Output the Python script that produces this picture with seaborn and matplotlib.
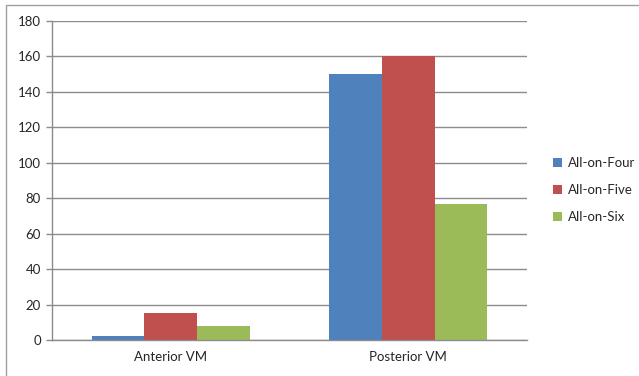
import matplotlib
matplotlib.use("Agg")
import matplotlib.pyplot as plt
import seaborn as sns
import pandas as pd
from matplotlib.patches import Rectangle

categories = ["Anterior VM", "Posterior VM"]
series = ["All-on-Four", "All-on-Five", "All-on-Six"]
all_on_four = [2, 150]
all_on_five = [15, 160]
all_on_six = [8, 77]
yticks = [0, 20, 40, 60, 80, 100, 120, 140, 160, 180]
colors = ["#4F81BD", "#C0504D", "#9BBB59"]

rows = []
for name, vals in zip(series, [all_on_four, all_on_five, all_on_six]):
    for cat, v in zip(categories, vals):
        rows.append({"category": cat, "series": name, "value": v})
df = pd.DataFrame(rows)

sns.set_style("white")
plt.rcParams["font.family"] = ["Lato", "DejaVu Sans"]

W, H = 639, 376
fig = plt.figure(figsize=(W / 100, H / 100), dpi=100)
# chart frame
fig.patches.append(Rectangle((6 / W, -0.1), 2, (H - 5) / H + 0.1, transform=fig.transFigure,
                             fill=False, edgecolor="#A0A0A0", linewidth=1.0))

ax = fig.add_axes([52 / W, 1 - 340 / H, (527 - 52) / W, (340 - 21) / H])
sns.barplot(data=df, x="category", y="value", hue="series", palette=colors,
            width=0.667, saturation=1, ax=ax, legend=True, errorbar=None,
            linewidth=0, edgecolor="none")

ax.set_ylim(0, 180)
ax.set_xlim(-0.5, 1.5)
ax.set_yticks(yticks)
ax.set_yticklabels([str(t) for t in yticks], fontsize=9.5, color="#262626")
ax.yaxis.grid(True, color="#8C8C8C", linewidth=1.0)
ax.set_axisbelow(True)
ax.set_xlabel("")
ax.set_ylabel("")
ax.set_xticks([0, 1])
ax.set_xticklabels(categories, fontsize=9.5, color="#262626")
ax.tick_params(axis="x", length=0, pad=8)
ax.set_xticks([-0.5, 0.5, 1.5], minor=True)
ax.tick_params(axis="x", which="minor", length=4, color="#8C8C8C", width=1)
ax.tick_params(axis="y", length=4, color="#8C8C8C", width=1, pad=4, left=True)
for s in ["top", "right"]:
    ax.spines[s].set_visible(False)
for s in ["left", "bottom"]:
    ax.spines[s].set_color("#8C8C8C")
    ax.spines[s].set_linewidth(1.0)

leg = ax.legend(loc="center left", bbox_to_anchor=(1.03, 0.47), frameon=False,
                fontsize=9.5, handlelength=0.7, handleheight=0.7, handletextpad=0.4,
                labelspacing=1.15)
for t in leg.get_texts():
    t.set_color("#262626")

fig.savefig("out.png", dpi=100)
